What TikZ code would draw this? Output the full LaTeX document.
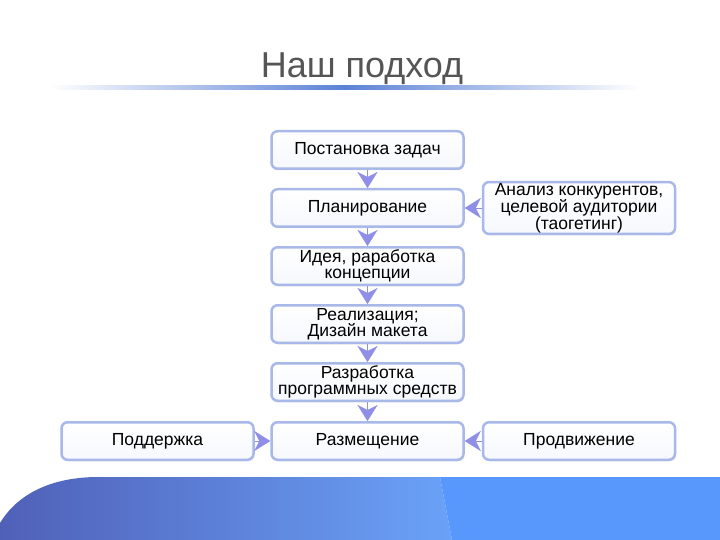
\documentclass[tikz,border=0pt]{standalone}
\usepackage{fontspec}
\setmainfont{Liberation Sans}
\usetikzlibrary{arrows.meta,positioning,shadows}
\definecolor{rim}{RGB}{168,184,232}
\definecolor{tipcol}{RGB}{143,143,232}
\definecolor{titlegray}{RGB}{85,85,85}
\definecolor{bandleft}{RGB}{80,96,184}
\definecolor{bandmid}{RGB}{106,162,248}
\definecolor{bandright}{RGB}{88,152,252}
\definecolor{barblue}{RGB}{91,130,214}
\tikzset{
  stepbox/.style={draw=rim,line width=2.5pt,rounded corners=6pt,top color=white,bottom color=rim!10,
    minimum width=192pt,minimum height=37.5pt,inner sep=1pt,align=center,
    font=\fontsize{17.5}{16.5}\selectfont,
    drop shadow={shadow xshift=0.6pt,shadow yshift=-1.5pt,opacity=0.25}},
  flow/.style={tipcol,line width=0.1pt,-{Stealth[length=16pt,width=20pt,inset=5pt]}}
}

\begin{document}
\begin{tikzpicture}[x=1pt,y=-1pt]
    \useasboundingbox (0,0) rectangle (720,540);
    % title and its bar
    \node[font=\fontsize{36}{40}\selectfont,text=titlegray,anchor=base] (title) at (362,78) {Наш подход};
    \shade[left color=white,right color=white,middle color=barblue] (50,86) rectangle (640,90);
    % band at the foot of the slide
    \shade[left color=bandleft,right color=bandmid] (0,540) -- (0,523) .. controls (15,498) and (45,478) .. (95,477)
      -- (440,477) -- (452,540) -- cycle;
    \fill[bandright] (440,477) -- (720,477) -- (720,540) -- (452,540) -- cycle;
    % the main column
    \foreach \y/\t [count=\k] in {
      150/Постановка задач,
      208/Планирование,
      266/{Идея, раработка\\концепции},
      324/{Реализация;\\Дизайн макета},
      382/{Разработка\\программных средств},
      441/Размещение}
    {
      \node[stepbox] (s\k) at (367.5,\y) {\t};
    }
    % side boxes
    \node[stepbox,minimum height=51.5pt] (ana) at (579,208) {Анализ конкурентов,\\целевой аудитории\\(таогетинг)};
    \node[stepbox] (sup) at (157.5,441) {Поддержка};
    \node[stepbox] (prom) at (579,441) {Продвижение};
    % connectors
    \foreach \a in {1,...,5}
    {
      \pgfmathtruncatemacro{\b}{\a+1}
      \draw[flow] (s\a) -- (s\b);
    }
    \draw[flow] (ana) -- (s2);
    \draw[flow] (sup) -- (s6);
    \draw[flow] (prom) -- (s6);
\end{tikzpicture}
\end{document}
